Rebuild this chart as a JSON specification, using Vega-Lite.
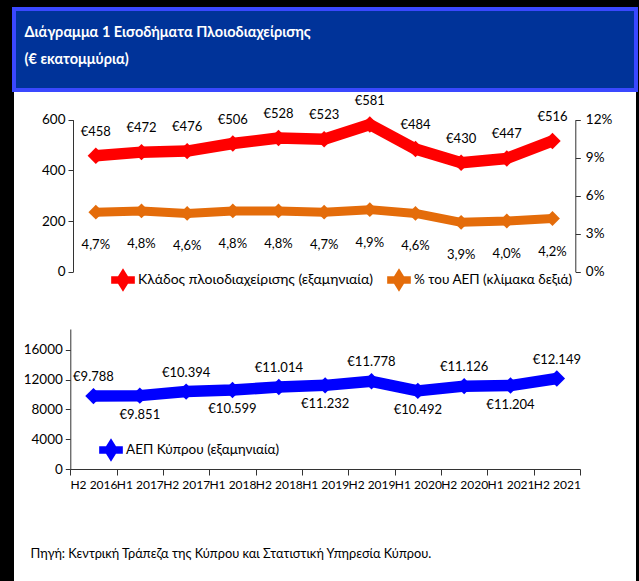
{
  "$schema": "https://vega.github.io/schema/vega-lite/v6.json",
  "background": "black",
  "padding": {"left": 12, "top": 7, "right": 5, "bottom": 3},
  "spacing": 0,
  "config": {
    "locale": {"number": {"decimal": ",", "thousands": ".", "grouping": [3], "currency": ["€", ""]}},
    "font": "Lato",
    "view": {"stroke": null},
    "axis": {"labelFont": "Lato", "labelColor": "black", "labelFontSize": 13.5, "domainColor": "#333333", "tickColor": "#333333", "grid": false, "title": null},
    "legend": {"orient": "none", "labelFont": "Lato", "labelFontSize": 14, "labelColor": "black", "symbolType": "M-1,-0.32L-0.42,-0.32L0,-1L0.42,-0.32L1,-0.32L1,0.32L0.42,0.32L0,1L-0.42,0.32L-1,0.32Z", "symbolSize": 560, "symbolStrokeWidth": 0, "labelOffset": 3, "padding": 0, "title": null, "labelLimit": 400}
  },
  "vconcat": [
    {
      "width": 622,
      "height": 81,
      "view": {"fill": "#003399", "stroke": "#3a48ff", "strokeWidth": 4},
      "data": {"values": [
        {"line": "Διάγραμμα 1  Εισοδήματα Πλοιοδιαχείρισης"},
        {"line": "(€ εκατομμύρια)"}
      ]},
      "mark": {"type": "point", "opacity": 0},
      "encoding": {
        "y": {"field": "line", "type": "nominal", "sort": null, "scale": {"type": "point", "range": [23, 50], "padding": 0},
              "axis": {"orient": "left", "offset": -10, "domain": false, "ticks": false, "tickSize": 0, "labelPadding": 0, "labelAlign": "left", "labelBaseline": "middle", "labelColor": "white", "labelFontSize": 14.5, "labelFontWeight": "bold", "labelLimit": 0, "labelFont": "Lato"}}
      }
    },
    {
      "width": 622,
      "height": 490,
      "view": {"fill": "white"},
      "data": {"values": [
        {"period": "H2 2016", "ship": 458, "pct": 0.047, "gdp": 9788},
        {"period": "H1 2017", "ship": 472, "pct": 0.048, "gdp": 9851},
        {"period": "H2 2017", "ship": 476, "pct": 0.046, "gdp": 10394},
        {"period": "H1 2018", "ship": 506, "pct": 0.048, "gdp": 10599},
        {"period": "H2 2018", "ship": 528, "pct": 0.048, "gdp": 11014},
        {"period": "H1 2019", "ship": 523, "pct": 0.047, "gdp": 11232},
        {"period": "H2 2019", "ship": 581, "pct": 0.049, "gdp": 11778},
        {"period": "H1 2020", "ship": 484, "pct": 0.046, "gdp": 10492},
        {"period": "H2 2020", "ship": 430, "pct": 0.039, "gdp": 11126},
        {"period": "H1 2021", "ship": 447, "pct": 0.040, "gdp": 11204},
        {"period": "H2 2021", "ship": 516, "pct": 0.042, "gdp": 12149}
      ]},
      "layer": [
        {
          "layer": [
            {
              "encoding": {
                "x": {"field": "period", "type": "ordinal", "sort": null, "scale": {"type": "band", "range": [59, 561.3], "paddingInner": 0, "paddingOuter": 0}, "axis": null},
                "y": {"field": "ship", "type": "quantitative", "scale": {"domain": [0, 600], "range": [179.7, 27.7], "nice": false}, "axis": {"orient": "left", "offset": -59, "values": [0, 200, 400, 600], "format": "d", "tickSize": 5, "labelPadding": 3}}
              },
              "layer": [
                {"mark": {"type": "line", "color": "#ff0000", "strokeWidth": 11.5, "strokeJoin": "round"}},
                {"mark": {"type": "point", "shape": "diamond", "filled": true, "opacity": 1, "size": 270},
                 "encoding": {"color": {"datum": "Κλάδος πλοιοδιαχείρισης (εξαμηνιαία)", "scale": {"range": ["#ff0000"]}, "legend": {"legendX": 97, "legendY": 176}}}},
                {"mark": {"type": "text", "dy": -24, "fontSize": 13, "color": "black"},
                 "encoding": {"text": {"field": "ship", "type": "quantitative", "format": "$,.0f"}}}
              ]
            },
            {
              "encoding": {
                "x": {"field": "period", "type": "ordinal", "sort": null, "scale": {"type": "band", "range": [59, 561.3], "paddingInner": 0, "paddingOuter": 0}, "axis": null},
                "y": {"field": "pct", "type": "quantitative", "scale": {"domain": [0, 0.12], "range": [179.7, 27.7], "nice": false}, "axis": {"orient": "right", "offset": -60.7, "values": [0, 0.03, 0.06, 0.09, 0.12], "format": ".0%", "tickSize": 5, "labelPadding": 5}}
              },
              "layer": [
                {"mark": {"type": "line", "color": "#e46c0a", "strokeWidth": 9, "strokeJoin": "round"}},
                {"mark": {"type": "point", "shape": "diamond", "filled": true, "opacity": 1, "size": 220},
                 "encoding": {"color": {"datum": "% του ΑΕΠ (κλίμακα δεξιά)", "scale": {"range": ["#e46c0a"]}, "legend": {"legendX": 373, "legendY": 176, "labelFontSize": 13.5, "encode": {"symbols": {"update": {"fill": {"value": "#d47a30"}}}}}}}},
                {"mark": {"type": "text", "dy": 33, "fontSize": 13, "color": "black"},
                 "encoding": {"text": {"field": "pct", "type": "quantitative", "format": ".1%"}}}
              ]
            }
          ],
          "resolve": {"scale": {"y": "independent", "color": "independent"}}
        },
        {
          "encoding": {
            "x": {"field": "period", "type": "ordinal", "sort": null, "scale": {"type": "band", "range": [56.3, 566], "paddingInner": 0, "paddingOuter": 0},
                  "axis": {"orient": "bottom", "offset": -113, "tickBand": "extent", "tickSize": 6, "labelAngle": 0, "labelPadding": 4, "labelFontSize": 12,
                           "title": "Πηγή: Κεντρική Τράπεζα της Κύπρου και Στατιστική Υπηρεσία Κύπρου.", "titleAnchor": "start", "titleAlign": "left", "titleBaseline": "middle", "titleX": 16, "titleY": 84, "titleFontSize": 12.8, "titleFontWeight": "normal", "titleColor": "black", "titleFont": "Lato"}},
            "y": {"field": "gdp", "type": "quantitative", "scale": {"domain": [0, 18800], "range": [377, 237], "nice": false}, "axis": {"orient": "left", "offset": -56.3, "values": [0, 4000, 8000, 12000, 16000], "format": "d", "tickSize": 5, "labelPadding": 3}}
          },
          "layer": [
            {"mark": {"type": "line", "color": "#0000ff", "strokeWidth": 11.5, "strokeJoin": "round"}},
            {"mark": {"type": "point", "shape": "diamond", "filled": true, "opacity": 1, "size": 270},
             "encoding": {"color": {"datum": "ΑΕΠ Κύπρου (εξαμηνιαία)", "scale": {"range": ["#0000ff"]}, "legend": {"legendX": 85, "legendY": 346, "labelFontSize": 13.5, "encode": {"symbols": {"update": {"fill": {"value": "#4a7ebb"}}}}}}}},
            {"transform": [{"filter": "indexof(datum.period, 'H2') === 0"}],
             "mark": {"type": "text", "dy": -19, "fontSize": 13, "color": "black"},
             "encoding": {"text": {"field": "gdp", "type": "quantitative", "format": "$,.0f"}}},
            {"transform": [{"filter": "indexof(datum.period, 'H1') === 0"}],
             "mark": {"type": "text", "dy": 19, "fontSize": 13, "color": "black"},
             "encoding": {"text": {"field": "gdp", "type": "quantitative", "format": "$,.0f"}}}
          ]
        }
      ],
      "resolve": {"scale": {"x": "independent", "y": "independent", "color": "independent"}}
    }
  ]
}
